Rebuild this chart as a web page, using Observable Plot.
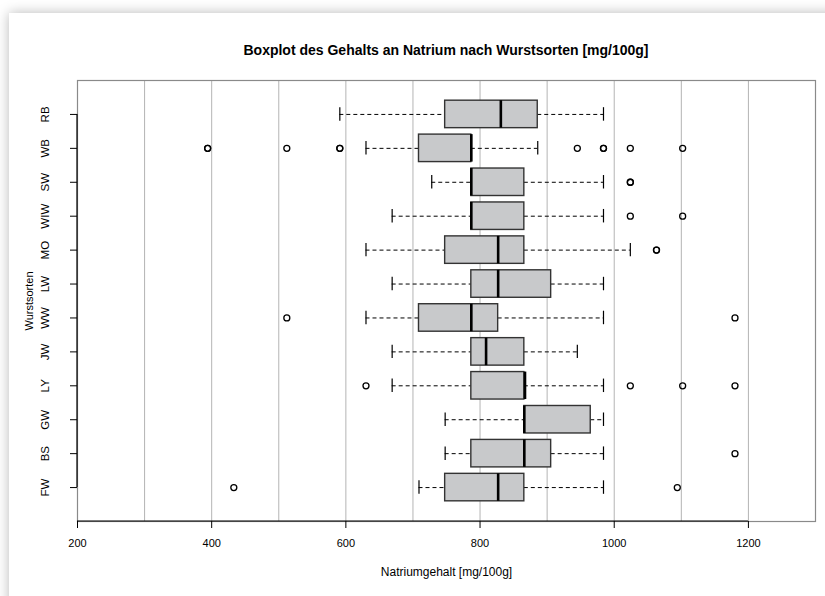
<!DOCTYPE html>
<html>
<head>
<meta charset="utf-8">
<script src="https://cdn.jsdelivr.net/npm/d3@7"></script>
<script src="https://cdn.jsdelivr.net/npm/@observablehq/plot@0.6"></script>
<style>
  html, body { margin: 0; padding: 0; background: #ffffff; width: 825px; height: 596px; overflow: hidden; }
  #card { position: absolute; left: 9px; top: 13px; width: 840px; height: 620px; background: #fff;
          box-shadow: 0 0 12px rgba(0,0,0,0.28); }
  #title { position: absolute; left: 77px; width: 738px; top: 42px; height: 20px; line-height: 20px;
           text-align: center; font: bold 14px "Liberation Sans", Arial, sans-serif; color: #000; }
  #chart { position: absolute; left: 0; top: 65px; }
</style>
</head>
<body>
<div id="card"></div>
<div id="title">Boxplot des Gehalts an Natrium nach Wurstsorten [mg/100g]</div>
<div id="chart"></div>
<script>
// Categories (top to bottom)
const categories = ["RB","WB","SW","WIW","MO","LW","WW","JW","LY","GW","BS","FW"];
// Box statistics [mg/100g]
const whiskerLow  = [591, 630, 728, 669, 630, 669, 630, 669, 669, 748, 748, 709];
const q1          = [748, 709, 787, 787, 748, 787, 709, 787, 787, 866, 787, 748];
const median      = [831, 787, 787, 787, 827, 827, 787, 809, 867, 866, 866, 827];
const q3          = [886, 787, 866, 866, 866, 906, 827, 866, 866, 965, 906, 866];
const whiskerHigh = [984, 886, 984, 984, 1024, 984, 984, 945, 984, 984, 984, 984];
// Outliers
const outlierSorte = ["WB","WB","WB","WB","WB","WB","WB","WB","WB","WB",
                      "SW","SW","WIW","WIW","MO","MO","WW","WW",
                      "LY","LY","LY","LY","BS","FW","FW"];
const outlierValue = [394,394,512,591,591,945,984,984,1024,1102,
                      1024,1024,1024,1102,1063,1063,512,1180,
                      630,1024,1102,1180,1180,433,1094];
// Axis ticks and grid
const xTicks = [200, 400, 600, 800, 1000, 1200];
const gridValues = [300, 400, 500, 600, 700, 800, 900, 1000, 1100, 1200];
const xDomain = [200, 1300];

const boxes = categories.map((s, i) => ({
  sorte: s, lo: whiskerLow[i], q1: q1[i], med: median[i], q3: q3[i], hi: whiskerHigh[i]
}));
const outliers = outlierSorte.map((s, i) => ({sorte: s, value: outlierValue[i]}));

const font = "'Liberation Sans', Arial, sans-serif";

function axisLines(index, scales, values, dims) {
  const {x, y} = scales;
  const g = d3.create("svg:g");
  const bottom = dims.height - dims.marginBottom;
  const bw = typeof y.bandwidth === "function" ? y.bandwidth() : (y.bandwidth || 0);
  g.append("line")
    .attr("x1", x(xTicks[0])).attr("x2", x(xTicks[xTicks.length - 1]))
    .attr("y1", bottom).attr("y2", bottom)
    .attr("stroke", "#000").attr("stroke-width", 1.2);
  g.append("line")
    .attr("x1", x(xDomain[0])).attr("x2", x(xDomain[0]))
    .attr("y1", y(categories[0]) + bw / 2).attr("y2", y(categories[categories.length - 1]) + bw / 2)
    .attr("stroke", "#000").attr("stroke-width", 1.2);
  return g.node();
}

const plot = Plot.plot({
  width: 825,
  height: 531,
  marginLeft: 77,
  marginRight: 10,
  marginTop: 15,
  marginBottom: 75,
  style: {fontFamily: font, fontSize: "11px", color: "#000", background: "transparent"},
  x: {domain: xDomain},
  y: {type: "band", domain: categories, paddingInner: 0.19, paddingOuter: 0.595, round: false},
  marks: [
    Plot.ruleX(gridValues, {stroke: "#b4b4b4", strokeWidth: 1}),
    Plot.frame({stroke: "#8a8a8a", strokeWidth: 1.2}),
    axisLines,
    Plot.axisX({ticks: xTicks, tickFormat: d => String(d), tickSize: 7, tickPadding: 11, fontSize: 11, label: null, stroke: "#000"}),
    Plot.axisY({tickSize: 7, tickFormat: () => "", label: null}),
    Plot.text(categories, {y: d => d, frameAnchor: "left", textAnchor: "middle", dx: -32, rotate: -90, fontSize: 11.5, fill: "#000"}),
    Plot.text(["Wurstsorten"], {frameAnchor: "left", textAnchor: "middle", dx: -48, rotate: -90, fontSize: 11, fill: "#000"}),
    Plot.text(["Natriumgehalt [mg/100g]"], {frameAnchor: "bottom", dy: 54, fontSize: 12, fill: "#000"}),
    // whiskers
    Plot.ruleY(boxes, {y: "sorte", x1: "lo", x2: "q1", stroke: "#000", strokeWidth: 1, strokeDasharray: "4,3"}),
    Plot.ruleY(boxes, {y: "sorte", x1: "q3", x2: "hi", stroke: "#000", strokeWidth: 1, strokeDasharray: "4,3"}),
    Plot.tickX(boxes, {y: "sorte", x: "lo", stroke: "#000", strokeWidth: 1.2, insetTop: 7, insetBottom: 7}),
    Plot.tickX(boxes, {y: "sorte", x: "hi", stroke: "#000", strokeWidth: 1.2, insetTop: 7, insetBottom: 7}),
    // boxes
    Plot.barX(boxes, {y: "sorte", x1: "q1", x2: "q3", fill: "#c8c9cb", stroke: "#333", strokeWidth: 1.4}),
    Plot.tickX(boxes, {y: "sorte", x: "med", stroke: "#000", strokeWidth: 2.6}),
    // outliers
    Plot.dot(outliers, {y: "sorte", x: "value", r: 3, stroke: "#000", strokeWidth: 1.3, fill: "none"})
  ]
});
document.getElementById("chart").appendChild(plot);
</script>
</body>
</html>
